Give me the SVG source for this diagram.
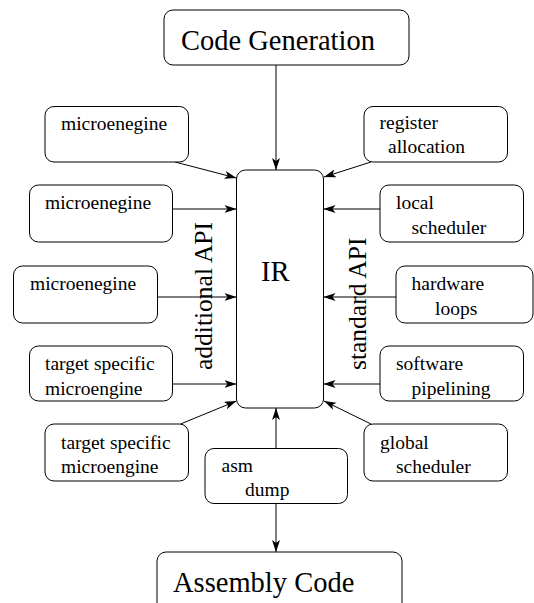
<svg xmlns="http://www.w3.org/2000/svg" width="534" height="603" viewBox="0 0 534 603">
<defs>
<marker id="ah" markerUnits="userSpaceOnUse" markerWidth="14" markerHeight="10" refX="12" refY="4" orient="auto">
<path d="M0,0 L12,4 L0,8 L3,4 z" fill="#000"/>
</marker>
<style>
.b{fill:#fff;stroke:#000;stroke-width:1}
.t{font-family:"Liberation Serif","Times New Roman",serif;font-size:19.5px;fill:#000}
.L{font-family:"Liberation Serif","Times New Roman",serif;font-size:28.5px;fill:#000}
.R{font-family:"Liberation Serif","Times New Roman",serif;font-size:25.5px;fill:#000}
.c{stroke:#000;stroke-width:1;fill:none;marker-end:url(#ah)}
</style>
</defs>
<rect width="534" height="603" fill="#fff"/>
<g id="connectors">
<line class="c" x1="276" y1="65" x2="276" y2="170"/>
<line class="c" x1="175" y1="162" x2="236.5" y2="178"/>
<line class="c" x1="371" y1="162" x2="324" y2="177"/>
<line class="c" x1="172.5" y1="209" x2="236.5" y2="209"/>
<line class="c" x1="380" y1="209" x2="323.5" y2="209"/>
<line class="c" x1="157.5" y1="297" x2="236.5" y2="297"/>
<line class="c" x1="396" y1="297" x2="323.5" y2="297"/>
<line class="c" x1="172.5" y1="384" x2="236.5" y2="384"/>
<line class="c" x1="380" y1="384" x2="323.5" y2="384"/>
<line class="c" x1="180.5" y1="424" x2="236.5" y2="401"/>
<line class="c" x1="371" y1="424" x2="324" y2="401"/>
<line class="c" x1="276" y1="448.5" x2="276" y2="408"/>
<line class="c" x1="276" y1="503.5" x2="276" y2="552"/>
</g>
<g id="codegen"><rect class="b" x="164" y="10" width="245" height="55" rx="9"/><text class="L" x="181" y="50">Code Generation</text></g>
<g id="ir"><rect class="b" x="236.5" y="170" width="87" height="238" rx="9"/><text class="L" x="261" y="281">IR</text></g>
<g id="me1"><rect class="b" x="45" y="106.5" width="143.5" height="55.5" rx="9"/><text class="t" x="61" y="130">microenegine</text></g>
<g id="regalloc"><rect class="b" x="364" y="106.5" width="143.5" height="55.5" rx="9"/><text class="t" x="379.5" y="129">register</text><text class="t" x="388" y="153">allocation</text></g>
<g id="me2"><rect class="b" x="29.5" y="185" width="143" height="57" rx="9"/><text class="t" x="45" y="209">microenegine</text></g>
<g id="localsched"><rect class="b" x="380" y="185" width="143.5" height="57" rx="9"/><text class="t" x="396" y="209">local</text><text class="t" x="411.5" y="234">scheduler</text></g>
<g id="me3"><rect class="b" x="13.5" y="266" width="144" height="57" rx="9"/><text class="t" x="30" y="290">microenegine</text></g>
<g id="hwloops"><rect class="b" x="396" y="266" width="137" height="57" rx="9"/><text class="t" x="411.5" y="290">hardware</text><text class="t" x="435" y="315">loops</text></g>
<g id="ts1"><rect class="b" x="29.5" y="346" width="143" height="55" rx="9"/><text class="t" x="45" y="370">target specific</text><text class="t" x="45" y="395">microengine</text></g>
<g id="swpipe"><rect class="b" x="380" y="346" width="143.5" height="55" rx="9"/><text class="t" x="396" y="370">software</text><text class="t" x="411.5" y="395">pipelining</text></g>
<g id="ts2"><rect class="b" x="45" y="424" width="143.5" height="57" rx="9"/><text class="t" x="61" y="449">target specific</text><text class="t" x="61" y="473">microengine</text></g>
<g id="globalsched"><rect class="b" x="364" y="424" width="143.5" height="57" rx="9"/><text class="t" x="380" y="449">global</text><text class="t" x="396" y="473">scheduler</text></g>
<g id="asmdump"><rect class="b" x="205" y="448.5" width="142.5" height="55" rx="9"/><text class="t" x="221.5" y="472">asm</text><text class="t" x="245" y="496">dump</text></g>
<g id="asmcode"><rect class="b" x="157" y="552" width="245" height="60" rx="9"/><text class="L" x="173" y="592">Assembly Code</text></g>
<g id="labels">
<text class="R" transform="translate(212,370) rotate(-90)">additional API</text>
<text class="R" transform="translate(365.5,370) rotate(-90)">standard API</text>
</g>
</svg>
